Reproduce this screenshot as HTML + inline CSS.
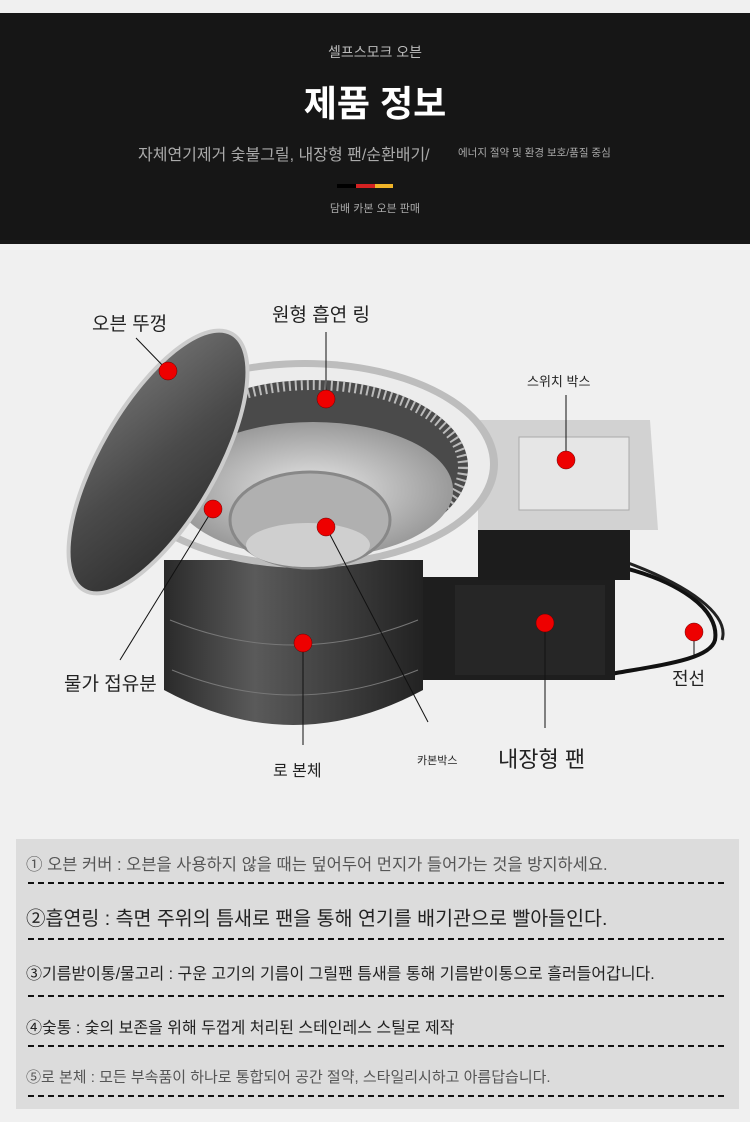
<!DOCTYPE html>
<html><head><meta charset="utf-8"><style>
html,body{margin:0;padding:0;}
body{width:750px;height:1122px;background:#f0f0f0;position:relative;overflow:hidden;font-family:"Liberation Sans","Noto Sans CJK KR",sans-serif;}
.hdr{position:absolute;left:0;top:13px;width:750px;height:231px;background:#161616;}
.t{position:absolute;white-space:nowrap;}
.box{position:absolute;left:16px;top:839px;width:723px;height:270px;background:#dcdcdc;}
.row{position:absolute;left:10px;white-space:nowrap;color:#222;}
.line{position:absolute;left:12px;width:696px;height:0;border-top:2px dashed #111;}
</style></head><body>
<div class="hdr">
 <div class="t" style="left:0;width:750px;text-align:center;top:29px;font-size:14px;color:#bbb;">셀프스모크 오븐</div>
 <div class="t" style="left:0;width:750px;text-align:center;top:62px;font-size:36px;font-weight:bold;color:#fff;">제품 정보</div>
 <div class="t" style="left:138px;top:128px;font-size:16px;color:#aaa;">자체연기제거 숯불그릴, 내장형 팬/순환배기/</div>
 <div class="t" style="left:458px;top:132px;font-size:10.5px;color:#aaa;">에너지 절약 및 환경 보호/품질 중심</div>
 <div style="position:absolute;left:337px;top:171px;width:19px;height:4px;background:#000;"></div>
 <div style="position:absolute;left:356px;top:171px;width:19px;height:4px;background:#d42222;"></div>
 <div style="position:absolute;left:375px;top:171px;width:18px;height:4px;background:#f0b428;"></div>
 <div class="t" style="left:0;width:750px;text-align:center;top:187px;font-size:11px;color:#aaa;">담배 카본 오븐 판매</div>
</div>

<svg width="750" height="1122" style="position:absolute;left:0;top:0" xmlns="http://www.w3.org/2000/svg">
 <defs>
  <linearGradient id="body" x1="0" x2="1"><stop offset="0" stop-color="#2a2a2a"/><stop offset="0.35" stop-color="#5a5a5a"/><stop offset="1" stop-color="#222"/></linearGradient>
  <radialGradient id="steel"><stop offset="0" stop-color="#e8e8e8"/><stop offset="1" stop-color="#9a9a9a"/></radialGradient>
  <linearGradient id="lid" x1="0" x2="1" y1="0" y2="1"><stop offset="0" stop-color="#777"/><stop offset="0.5" stop-color="#4a4a4a"/><stop offset="1" stop-color="#2a2a2a"/></linearGradient>
 </defs>
 <path d="M612 565 C680 580 720 610 715 640 C710 660 660 665 605 675" fill="none" stroke="#111" stroke-width="4"/>
 <path d="M620 560 C690 585 730 615 722 640" fill="none" stroke="#222" stroke-width="3"/>
 <rect x="419" y="577" width="196" height="103" fill="#1e1e1e"/>
 <rect x="455" y="585" width="150" height="90" fill="#262626"/>
 <rect x="478" y="525" width="152" height="55" fill="#1c1c1c"/>
 <path d="M478 420 L650 420 L658 530 L478 530 Z" fill="#d2d2d2"/>
 <rect x="519" y="437" width="110" height="73" fill="#e6e6e6" stroke="#aaa"/>
 <path d="M164 560 L164 690 Q293 760 423 690 L423 560 Z" fill="url(#body)"/>
 <path d="M170 620 Q293 670 418 620" fill="none" stroke="#777" stroke-width="1"/>
 <path d="M172 670 Q293 720 418 670" fill="none" stroke="#777" stroke-width="1"/>
 <ellipse cx="305" cy="464" rx="193" ry="104" fill="#bdbdbd"/>
 <ellipse cx="305" cy="464" rx="185" ry="97" fill="#ececec"/>
 <ellipse cx="313" cy="467" rx="155" ry="87" fill="#4a4a4a"/>
 <ellipse cx="313" cy="467" rx="150" ry="82" fill="none" stroke="#bbb" stroke-width="10" stroke-dasharray="2 4"/>
 <ellipse cx="313" cy="490" rx="140" ry="68" fill="url(#steel)"/>
 <ellipse cx="310" cy="520" rx="80" ry="48" fill="#b0b0b0" stroke="#888" stroke-width="3"/>
 <ellipse cx="308" cy="545" rx="62" ry="22" fill="#cfcfcf"/>
 <ellipse cx="158" cy="462" rx="58" ry="148" transform="rotate(30 158 462)" fill="url(#lid)" stroke="#ccc" stroke-width="4"/>
 <g stroke="#111" stroke-width="1" fill="none">
  <line x1="136" y1="338" x2="168" y2="371"/>
  <line x1="326" y1="332" x2="326" y2="399"/>
  <line x1="566" y1="395" x2="566" y2="460"/>
  <line x1="213" y1="509" x2="120" y2="660"/>
  <line x1="303" y1="643" x2="303" y2="745"/>
  <line x1="326" y1="527" x2="428" y2="722"/>
  <line x1="545" y1="623" x2="545" y2="728"/>
  <line x1="694" y1="632" x2="694" y2="658"/>
 </g>
 <g fill="#e00" stroke="#600" stroke-width="0.5">
  <circle cx="168" cy="371" r="9"/><circle cx="326" cy="399" r="9"/><circle cx="566" cy="460" r="9"/>
  <circle cx="213" cy="509" r="9"/><circle cx="326" cy="527" r="9"/><circle cx="303" cy="643" r="9"/>
  <circle cx="545" cy="623" r="9"/><circle cx="694" cy="632" r="9"/>
 </g>
</svg>

<div class="t" style="left:92px;top:309px;font-size:19px;color:#222;">오븐 뚜껑</div>
<div class="t" style="left:272px;top:300px;font-size:19px;color:#222;">원형 흡연 링</div>
<div class="t" style="left:527px;top:371px;font-size:13px;color:#222;">스위치 박스</div>
<div class="t" style="left:64px;top:669px;font-size:19px;color:#222;">물가 접유분</div>
<div class="t" style="left:273px;top:757px;font-size:16px;color:#222;">로 본체</div>
<div class="t" style="left:417px;top:752px;font-size:11px;color:#222;">카본박스</div>
<div class="t" style="left:498px;top:742px;font-size:22px;color:#222;">내장형 팬</div>
<div class="t" style="left:672px;top:665px;font-size:18px;color:#222;">전선</div>

<div class="box">
 <div class="row" style="top:12px;font-size:16.5px;color:#555;">① 오븐 커버 : 오븐을 사용하지 않을 때는 덮어두어 먼지가 들어가는 것을 방지하세요.</div>
 <div class="line" style="top:43px;"></div>
 <div class="row" style="top:63px;font-size:19.5px;">②흡연링 : 측면 주위의 틈새로 팬을 통해 연기를 배기관으로 빨아들인다.</div>
 <div class="line" style="top:99px;"></div>
 <div class="row" style="top:121px;font-size:16px;">③기름받이통/물고리 : 구운 고기의 기름이 그릴팬 틈새를 통해 기름받이통으로 흘러들어갑니다.</div>
 <div class="line" style="top:156px;"></div>
 <div class="row" style="top:175px;font-size:16px;">④숯통 : 숯의 보존을 위해 두껍게 처리된 스테인레스 스틸로 제작</div>
 <div class="line" style="top:206px;"></div>
 <div class="row" style="top:227px;font-size:15px;color:#555;">⑤로 본체 : 모든 부속품이 하나로 통합되어 공간 절약, 스타일리시하고 아름답습니다.</div>
 <div class="line" style="top:256px;"></div>
</div>
</body></html>
